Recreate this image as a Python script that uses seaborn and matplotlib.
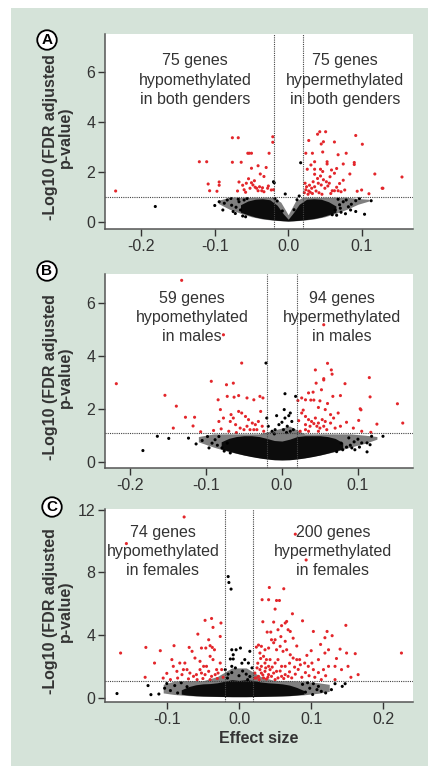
import matplotlib
matplotlib.use("Agg")
import matplotlib.pyplot as plt
from matplotlib.patches import Rectangle
import pandas as pd
import seaborn as sns

### values

# panel A - both genders
a_red_x = [-0.235, -0.121, -0.111, -0.109, -0.107, -0.094, -0.094, -0.097, -0.076, -0.068,
           -0.076, -0.064, -0.055, -0.053, -0.050, -0.026, -0.041, -0.050, -0.030, -0.038,
           -0.033, -0.067, -0.069, -0.062, -0.057, -0.050, -0.046, -0.048, -0.052, -0.043,
           -0.041, -0.036, -0.033, -0.028, -0.023, -0.021, -0.021, -0.020, -0.045, -0.058,
           -0.039, -0.035, -0.027, -0.054, -0.060,
           0.040, 0.043, 0.051, 0.028, 0.045, 0.048, 0.063, 0.092, 0.101, 0.024,
           0.033, 0.047, 0.068, 0.079, 0.053, 0.053, 0.036, 0.031, 0.044, 0.047,
           0.059, 0.063, 0.066, 0.075, 0.090, 0.090, 0.084, 0.118, 0.155, 0.075,
           0.056, 0.036, 0.036, 0.026, 0.023, 0.025, 0.028, 0.032, 0.036, 0.041,
           0.045, 0.050, 0.052, 0.057, 0.060, 0.063, 0.068, 0.072, 0.077, 0.094,
           0.100, 0.110, 0.128, 0.129, 0.022, 0.024, 0.027, 0.030, 0.033, 0.038,
           0.042, 0.046, 0.029, 0.034, 0.040, 0.044, 0.048, 0.054, 0.058, 0.066, 0.070]
a_red_y = [1.25, 2.42, 2.42, 1.53, 1.26, 1.61, 1.48, 1.24, 3.38, 3.38,
           2.40, 2.40, 2.76, 2.76, 2.76, 2.76, 2.26, 2.16, 2.19, 1.93,
           1.83, 1.61, 1.25, 1.48, 1.56, 1.58, 1.66, 1.49, 1.36, 1.36,
           1.26, 1.26, 1.22, 1.36, 1.29, 3.42, 3.20, 1.30, 1.40, 1.20,
           1.42, 1.38, 1.45, 1.74, 1.30,
           3.52, 3.62, 3.62, 3.27, 3.13, 3.22, 3.21, 3.47, 3.12, 2.76,
           2.76, 2.81, 2.70, 2.76, 2.42, 2.33, 2.42, 2.29, 2.12, 2.03,
           2.09, 1.96, 2.15, 2.33, 2.39, 2.31, 1.93, 1.93, 1.81, 1.68,
           1.56, 2.12, 1.92, 2.12, 1.56, 1.42, 1.25, 1.36, 1.42, 1.56,
           1.49, 1.36, 1.62, 1.82, 1.26, 1.26, 1.26, 1.22, 1.29, 1.24,
           1.29, 1.14, 1.36, 1.36, 1.18, 1.30, 1.12, 1.20, 1.15, 1.25,
           1.18, 1.12, 1.48, 1.62, 1.75, 1.85, 1.70, 1.45, 1.15, 1.40, 1.55]
a_blk_x = [-0.181, -0.100, -0.094, -0.089, -0.087, -0.083, -0.077, -0.075, -0.071, -0.067,
           -0.065, -0.060, 0.068, 0.075, 0.079, 0.085, 0.092, 0.092, 0.104, 0.113,
           0.078, 0.070, 0.064, 0.071, 0.017, -0.020, -0.019, -0.004, 0.015, -0.018,
           -0.072, -0.062, -0.056, -0.078, -0.068, 0.072, 0.082, 0.086, 0.097, 0.060,
           -0.015, 0.012, -0.008, 0.008, -0.058, 0.066]
a_blk_y = [0.63, 0.67, 0.82, 0.49, 0.76, 0.89, 0.68, 0.43, 0.60, 0.82,
           0.49, 0.89, 0.92, 0.82, 0.89, 0.49, 0.86, 0.43, 0.32, 0.86,
           0.34, 0.70, 0.49, 0.56, 2.38, 1.62, 1.58, 1.13, 1.05, 0.95,
           0.35, 0.25, 0.95, 0.95, 0.92, 0.40, 0.62, 0.72, 0.95, 0.30,
           0.85, 0.90, 0.45, 0.50, 0.22, 0.28]
a_halo_x = [-0.095, -0.08, -0.065, -0.05, -0.035, -0.02, -0.01, 0.0, 0.01, 0.02,
            0.035, 0.05, 0.065, 0.08, 0.095, 0.11]
a_halo_lo = [0.75, 0.52, 0.36, 0.22, 0.13, 0.08, 0.06, 0.04, 0.06, 0.08,
             0.13, 0.22, 0.36, 0.52, 0.72, 0.85]
a_halo_hi = [0.88, 1.00, 1.00, 1.00, 1.00, 1.00, 0.80, 0.30, 0.85, 1.00,
             1.00, 1.00, 1.00, 1.00, 0.95, 0.92]
a_cloud_x = [-0.065, -0.055, -0.045, -0.035, -0.025, -0.015, -0.007, 0.0,
             0.007, 0.015, 0.025, 0.035, 0.045, 0.055, 0.065]
a_cloud_lo = [0.40, 0.30, 0.21, 0.15, 0.11, 0.08, 0.06, 0.05,
              0.06, 0.08, 0.11, 0.15, 0.21, 0.30, 0.40]
a_cloud_hi = [0.70, 0.85, 0.92, 0.94, 0.90, 0.68, 0.35, 0.12,
              0.38, 0.72, 0.92, 0.94, 0.92, 0.82, 0.65]

# panel B - males
b_red_x = [-0.218, -0.154, -0.139, -0.127, -0.115, -0.143, -0.117, -0.107, -0.093, -0.084,
           -0.081, -0.077, -0.053, -0.073, -0.064, -0.072, -0.063, -0.057, -0.046, -0.037,
           -0.029, -0.025, -0.028, -0.067, -0.064, -0.068, -0.061, -0.057, -0.053, -0.048,
           -0.044, -0.039, -0.035, -0.031, -0.026, -0.055, -0.050, -0.046, -0.042, -0.037,
           -0.033, -0.080, -0.090, -0.083, -0.077, -0.070, -0.060, -0.024, -0.132,
           0.060, 0.044, 0.065, 0.066, 0.055, 0.055, 0.115, 0.045, 0.083, 0.035,
           0.041, 0.052, 0.026, 0.031, 0.038, 0.042, 0.050, 0.067, 0.077, 0.116,
           0.021, 0.103, 0.104, 0.152, 0.159, 0.125, 0.101, 0.085, 0.094, 0.077,
           0.117, 0.105, 0.026, 0.031, 0.035, 0.039, 0.044, 0.048, 0.053, 0.057,
           0.031, 0.037, 0.042, 0.046, 0.050, 0.055, 0.059, 0.064, 0.068, 0.070,
           0.031, 0.024, 0.035, 0.048, 0.057, 0.064, 0.074, 0.060, 0.048, 0.028,
           0.022, 0.055]
b_red_y = [2.95, 2.51, 2.10, 1.68, 1.68, 1.27, 1.35, 1.13, 3.04, 2.34,
           1.97, 4.80, 3.73, 2.91, 2.97, 2.47, 2.44, 2.50, 2.41, 2.34,
           2.47, 2.41, 1.90, 1.78, 1.65, 1.52, 1.40, 1.90, 1.84, 1.71,
           1.59, 1.46, 1.40, 1.52, 1.34, 1.27, 1.21, 1.34, 1.21, 1.21,
           1.21, 1.24, 1.18, 1.52, 1.65, 1.15, 1.10, 1.15, 6.86,
           3.72, 3.47, 3.47, 3.31, 3.14, 3.09, 3.18, 2.97, 2.95, 2.60,
           2.63, 2.72, 2.41, 2.34, 2.33, 2.33, 2.30, 2.47, 2.50, 2.45,
           2.31, 2.00, 1.96, 2.19, 1.46, 1.42, 1.56, 1.49, 1.27, 1.34,
           1.11, 1.15, 1.84, 1.71, 1.59, 1.52, 1.65, 1.46, 1.59, 1.52,
           1.40, 1.34, 1.44, 1.34, 1.27, 1.34, 1.21, 1.46, 1.65, 1.27,
           1.21, 1.15, 1.15, 1.15, 1.97, 1.78, 1.84, 2.20, 2.05, 1.95,
           1.55, 5.18]
b_blk_x = [-0.183, -0.164, -0.149, -0.123, -0.113, -0.096, -0.088, -0.079, -0.105, -0.092,
           -0.083, -0.072, 0.133, 0.118, 0.116, 0.105, 0.092, 0.085, 0.100, 0.078,
           0.095, 0.088, 0.112, 0.112, 0.096,
           0.004, 0.003, -0.007, -0.020, 0.004, 0.009, 0.013, 0.011, -0.004, 0.000,
           0.007, -0.009, 0.015, -0.013, -0.018, 0.002, 0.011, -0.021, 0.018,
           -0.098, -0.085, -0.076, -0.068, 0.072, 0.080, 0.090, 0.102, -0.010, 0.006]
b_blk_y = [0.42, 0.96, 0.88, 0.89, 0.67, 0.52, 0.83, 0.52, 0.80, 0.70,
           0.95, 0.70, 0.96, 0.96, 0.64, 0.71, 0.52, 0.55, 0.85, 0.70,
           0.75, 0.90, 0.71, 0.37, 0.45,
           2.57, 1.97, 1.74, 1.65, 1.65, 1.74, 1.52, 1.84, 1.40, 1.49,
           1.34, 1.21, 1.21, 1.15, 1.34, 1.21, 1.15, 3.73, 2.47,
           0.95, 0.62, 0.40, 0.33, 0.38, 0.45, 0.62, 0.55, 1.05, 1.10]
b_halo_x = [-0.11, -0.09, -0.07, -0.05, -0.03, -0.01, 0.01, 0.03, 0.05, 0.07,
            0.09, 0.11, 0.125]
b_halo_lo = [0.75, 0.55, 0.38, 0.25, 0.15, 0.08, 0.08, 0.15, 0.25, 0.38,
             0.55, 0.70, 0.85]
b_halo_hi = [0.95, 1.05, 1.05, 1.05, 1.05, 1.20, 1.35, 1.05, 1.05, 1.05,
             1.05, 1.00, 0.95]
b_cloud_x = [-0.080, -0.070, -0.060, -0.050, -0.040, -0.030, -0.020, -0.010, 0.000,
             0.010, 0.020, 0.030, 0.040, 0.050, 0.060, 0.070, 0.080]
b_cloud_lo = [0.48, 0.40, 0.32, 0.25, 0.19, 0.14, 0.10, 0.07, 0.06,
              0.07, 0.10, 0.14, 0.19, 0.25, 0.32, 0.40, 0.48]
b_cloud_hi = [0.75, 0.88, 0.95, 0.98, 0.98, 0.95, 0.88, 0.80, 0.78,
              0.85, 0.95, 0.98, 0.98, 0.98, 0.95, 0.88, 0.72]

# panel C - females
c_red_x = [-0.164, -0.129, -0.109, -0.090, -0.117, -0.130, -0.156, -0.076, -0.093, -0.091,
           -0.086, -0.082, -0.075, -0.069, -0.065, -0.057, -0.052, -0.047, -0.038, -0.025,
           -0.036, -0.042, -0.037, -0.040, -0.046, -0.034, -0.026, -0.061, -0.054, -0.049,
           -0.045, -0.040, -0.036, -0.031, -0.026, -0.052, -0.047, -0.042, -0.038, -0.033,
           -0.029, -0.024, -0.068, -0.063, -0.072, -0.077, -0.079, -0.054, -0.059, -0.100,
           -0.105, -0.095, -0.085, -0.070, -0.058, -0.050, -0.040, -0.030, -0.022,
           0.042, 0.062, 0.032, 0.041, 0.052, 0.056, 0.050, 0.074, 0.066, 0.064,
           0.088, 0.033, 0.048, 0.059, 0.068, 0.054, 0.071, 0.039, 0.044, 0.045,
           0.050, 0.048, 0.103, 0.122, 0.129, 0.148, 0.119, 0.225, 0.161, 0.165,
           0.078, 0.093, 0.027, 0.031, 0.024, 0.036, 0.041, 0.029, 0.034, 0.038,
           0.043, 0.052, 0.057, 0.061, 0.066, 0.071, 0.075, 0.080, 0.084, 0.091,
           0.096, 0.101, 0.110, 0.117, 0.124, 0.133, 0.142, 0.151, 0.103, 0.114,
           0.133, 0.149, 0.119, 0.124, 0.022, 0.027, 0.031, 0.036, 0.041, 0.045,
           0.034, 0.038, 0.029, 0.024, 0.043, 0.048, 0.052, 0.054, 0.059, 0.064,
           0.068, 0.073, 0.031, 0.036, 0.041, 0.050, 0.054, 0.059, 0.064, 0.025,
           0.028, 0.033, 0.037, 0.040, 0.046, 0.050, 0.057, 0.062, 0.070, 0.078,
           0.082, 0.087, 0.092, 0.097, 0.105, 0.110, 0.085, 0.070, 0.077, 0.094,
           0.100, 0.080, 0.064, 0.058, 0.075, 0.113, 0.140, 0.135, 0.155, 0.120,
           0.026, 0.030, 0.022]
c_red_y = [2.85, 3.21, 3.00, 3.32, 2.21, 1.30, 9.85, 11.55, 2.43, 2.00,
           1.68, 2.21, 2.21, 3.21, 2.96, 4.06, 3.17, 4.94, 5.06, 4.77,
           4.49, 3.70, 3.21, 3.32, 3.17, 3.06, 3.91, 2.53, 2.32, 2.00,
           2.00, 2.64, 2.43, 1.79, 2.21, 1.57, 1.47, 1.68, 1.36, 1.47,
           1.57, 1.79, 1.57, 1.36, 1.79, 1.79, 1.47, 1.79, 1.47, 1.55,
           1.25, 1.15, 1.25, 1.20, 1.15, 1.22, 1.15, 1.22, 1.30,
           7.04, 6.96, 6.26, 6.26, 6.21, 6.21, 5.66, 5.36, 4.87, 4.77,
           4.91, 4.85, 4.83, 4.60, 4.34, 4.34, 4.23, 4.19, 4.19, 3.70,
           3.70, 3.51, 4.23, 4.23, 3.96, 4.62, 3.83, 2.85, 2.81, 1.47,
           10.45, 8.80, 3.36, 3.28, 3.23, 3.06, 3.17, 2.85, 2.64, 2.43,
           2.43, 3.06, 3.28, 2.96, 3.06, 2.74, 2.53, 2.43, 2.43, 2.21,
           2.00, 2.21, 2.43, 1.79, 2.00, 2.00, 1.79, 2.00, 1.79, 1.15,
           1.15, 2.85, 2.85, 3.06, 1.57, 1.36, 1.57, 1.68, 1.47, 1.36,
           1.26, 1.19, 1.79, 1.26, 1.79, 1.57, 1.68, 1.26, 1.36, 1.47,
           1.36, 1.26, 2.00, 2.21, 2.00, 2.21, 2.43, 2.00, 2.00, 1.90,
           1.15, 1.45, 1.90, 1.30, 1.95, 1.15, 1.70, 1.22, 1.65, 1.50,
           1.80, 1.30, 1.60, 1.40, 1.30, 1.60, 2.10, 2.20, 1.95, 2.70,
           3.00, 3.30, 3.60, 3.90, 3.80, 3.40, 3.10, 2.50, 1.30, 1.40,
           2.20, 2.50, 1.25]
c_blk_x = [-0.015, -0.014, -0.011, -0.010, -0.004, 0.002, 0.015, -0.012, -0.008, -0.008,
           0.008, 0.013, -0.010, -0.019, -0.005, 0.005, 0.010, -0.015, 0.015, 0.000,
           -0.010, 0.018, 0.004, -0.016, 0.012,
           -0.169, -0.126, -0.122, -0.111, -0.103, -0.089, -0.095, -0.085,
           0.103, 0.110, 0.114, 0.128, 0.133, 0.143, 0.147, 0.108, 0.120, 0.098, 0.092,
           -0.080, -0.072, 0.088, 0.095, -0.100, 0.102]
c_blk_y = [7.74, 7.36, 6.94, 3.06, 3.06, 3.17, 2.96, 2.47, 2.47, 2.74,
           2.43, 2.21, 2.00, 1.79, 1.90, 1.70, 1.50, 1.50, 1.35, 1.40,
           1.60, 1.90, 2.20, 1.25, 1.15,
           0.26, 0.77, 0.19, 0.23, 0.60, 0.77, 0.45, 0.30,
           0.89, 0.72, 0.40, 0.51, 0.89, 0.72, 0.89, 0.51, 0.30, 0.60, 0.35,
           0.95, 0.70, 0.85, 0.95, 0.90, 0.20]
c_halo_x = [-0.105, -0.09, -0.07, -0.05, -0.03, -0.01, 0.01, 0.03, 0.05, 0.07,
            0.09, 0.11, 0.125]
c_halo_lo = [0.30, 0.20, 0.13, 0.09, 0.07, 0.06, 0.06, 0.07, 0.09, 0.12,
             0.18, 0.28, 0.40]
c_halo_hi = [0.85, 1.05, 1.08, 1.08, 1.35, 1.90, 1.90, 1.35, 1.08, 1.08,
             1.05, 0.95, 0.85]
c_cloud_x = [-0.080, -0.070, -0.060, -0.050, -0.040, -0.030, -0.020, -0.010, 0.000,
             0.010, 0.020, 0.030, 0.040, 0.050, 0.060, 0.070, 0.080, 0.090]
c_cloud_lo = [0.22, 0.16, 0.12, 0.10, 0.09, 0.08, 0.07, 0.06, 0.06,
              0.06, 0.07, 0.08, 0.09, 0.10, 0.11, 0.13, 0.17, 0.22]
c_cloud_hi = [0.50, 0.70, 0.82, 0.88, 0.90, 0.95, 1.05, 1.15, 1.10,
              1.15, 1.10, 1.00, 0.95, 0.92, 0.88, 0.80, 0.65, 0.45]

letters = ["A", "B", "C"]
left_texts = ["75 genes\nhypomethylated\nin both genders",
              "59 genes\nhypomethylated\nin males",
              "74 genes\nhypomethylated\nin females"]
right_texts = ["75 genes\nhypermethylated\nin both genders",
               "94 genes\nhypermethylated\nin males",
               "200 genes\nhypermethylated\nin females"]
x_ticks = [[-0.2, -0.1, 0.0, 0.1], [-0.2, -0.1, 0.0, 0.1], [-0.1, 0.0, 0.1, 0.2]]
y_ticks = [[0, 2, 4, 6], [0, 2, 4, 6], [0, 4, 8, 12]]
fc_cut = [0.02, 0.02, 0.02]
fdr_cut = [1.0, 1.07, 1.08]

### layout

W, H = 428, 766
bg = "#d5e3d9"
red = "#e3262b"
txt = "#333333"

sns.set_theme(style="ticks")
plt.rcParams["font.family"] = ["Liberation Sans", "DejaVu Sans"]
plt.rcParams["axes.unicode_minus"] = False

fig = plt.figure(figsize=(W / 100, H / 100), dpi=100)
fig.patch.set_facecolor("white")
fig.add_artist(Rectangle((11 / W, 0), 1 - 11 / W, 1 - 8 / H, transform=fig.transFigure,
                         facecolor=bg, edgecolor="none", zorder=-5))

# pixel boxes: top, bottom of each axes, x from 105 to 413
boxes = [(34, 229), (274, 468), (509, 702)]
xlims = [(-0.2495, 0.170), (-0.2329, 0.1725), (-0.1856, 0.241)]
ylims = [(-0.27, 7.53), (-0.24, 7.1), (-0.28, 12.06)]
txt_pos = [((0.292, 0.764), (0.779, 0.764)),
           ((0.282, 0.775), (0.768, 0.775)),
           ((0.188, 0.779), (0.740, 0.779))]
letter_pos = [(47, 40), (47, 271), (52, 507)]

panels = [(a_red_x, a_red_y, a_blk_x, a_blk_y, a_halo_x, a_halo_lo, a_halo_hi,
           a_cloud_x, a_cloud_lo, a_cloud_hi),
          (b_red_x, b_red_y, b_blk_x, b_blk_y, b_halo_x, b_halo_lo, b_halo_hi,
           b_cloud_x, b_cloud_lo, b_cloud_hi),
          (c_red_x, c_red_y, c_blk_x, c_blk_y, c_halo_x, c_halo_lo, c_halo_hi,
           c_cloud_x, c_cloud_lo, c_cloud_hi)]

for i, (rx, ry, bx, by, hx, hlo, hhi, cx, clo, chi) in enumerate(panels):
    top, bot = boxes[i]
    ax = fig.add_axes([105 / W, 1 - bot / H, 308 / W, (bot - top) / H])
    ax.set_facecolor("white")

    # sparse fringe and dense core of non-significant probes
    ax.fill_between(hx, hlo, hhi, color="black", lw=0, alpha=0.5, zorder=2)
    ax.fill_between(cx, clo, chi, color="black", lw=0, alpha=0.9, zorder=2)

    df = pd.DataFrame({"effect": list(bx) + list(rx),
                       "logp": list(by) + list(ry),
                       "kind": ["ns"] * len(bx) + ["sig"] * len(rx)})
    sns.scatterplot(data=df, x="effect", y="logp", hue="kind",
                    palette={"ns": "black", "sig": red}, s=5, linewidth=0,
                    legend=False, ax=ax, zorder=3)

    ls = (0, (1, 1))
    ax.axvline(-fc_cut[i], color="#444444", lw=0.8, ls=ls, zorder=4)
    ax.axvline(fc_cut[i], color="#444444", lw=0.8, ls=ls, zorder=4)
    ax.axhline(fdr_cut[i], color="#444444", lw=0.8, ls=ls, zorder=4)

    ax.set_xlim(*xlims[i])
    ax.set_ylim(*ylims[i])
    ax.set_xticks(x_ticks[i])
    ax.set_xticklabels(["%.1f" % v for v in x_ticks[i]])
    ax.set_yticks(y_ticks[i])
    ax.set_yticklabels([str(v) for v in y_ticks[i]])
    ax.tick_params(axis="both", labelsize=11.5, colors=txt, length=5, width=1,
                   pad=2, direction="out")
    for side in ["top", "right"]:
        ax.spines[side].set_visible(False)
    for side in ["left", "bottom"]:
        ax.spines[side].set_color("#555555")
        ax.spines[side].set_linewidth(1.1)

    ax.set_ylabel("-Log10 (FDR adjusted\np-value)", fontsize=11.5, fontweight="bold",
                  color=txt, linespacing=1.0)
    ax.yaxis.set_label_coords(-0.104, 0.47)
    if i == 2:
        ax.set_xlabel("Effect size", fontsize=11.5, fontweight="bold", color=txt, labelpad=3)
    else:
        ax.set_xlabel("")

    (lx, ly), (rx_, ry_) = txt_pos[i]
    ax.text(lx, ly, left_texts[i], transform=ax.transAxes, ha="center", va="center",
            fontsize=11.5, color=txt, linespacing=1.35, zorder=5)
    ax.text(rx_, ry_, right_texts[i], transform=ax.transAxes, ha="center", va="center",
            fontsize=11.5, color=txt, linespacing=1.35, zorder=5)

    px, py = letter_pos[i]
    fig.text(px / W, 1 - py / H, letters[i], ha="center", va="center", fontsize=11,
             fontweight="bold", color="black",
             bbox=dict(boxstyle="circle,pad=0.18", fc="white", ec="black", lw=1.3))

fig.savefig("out.png", dpi=100)
